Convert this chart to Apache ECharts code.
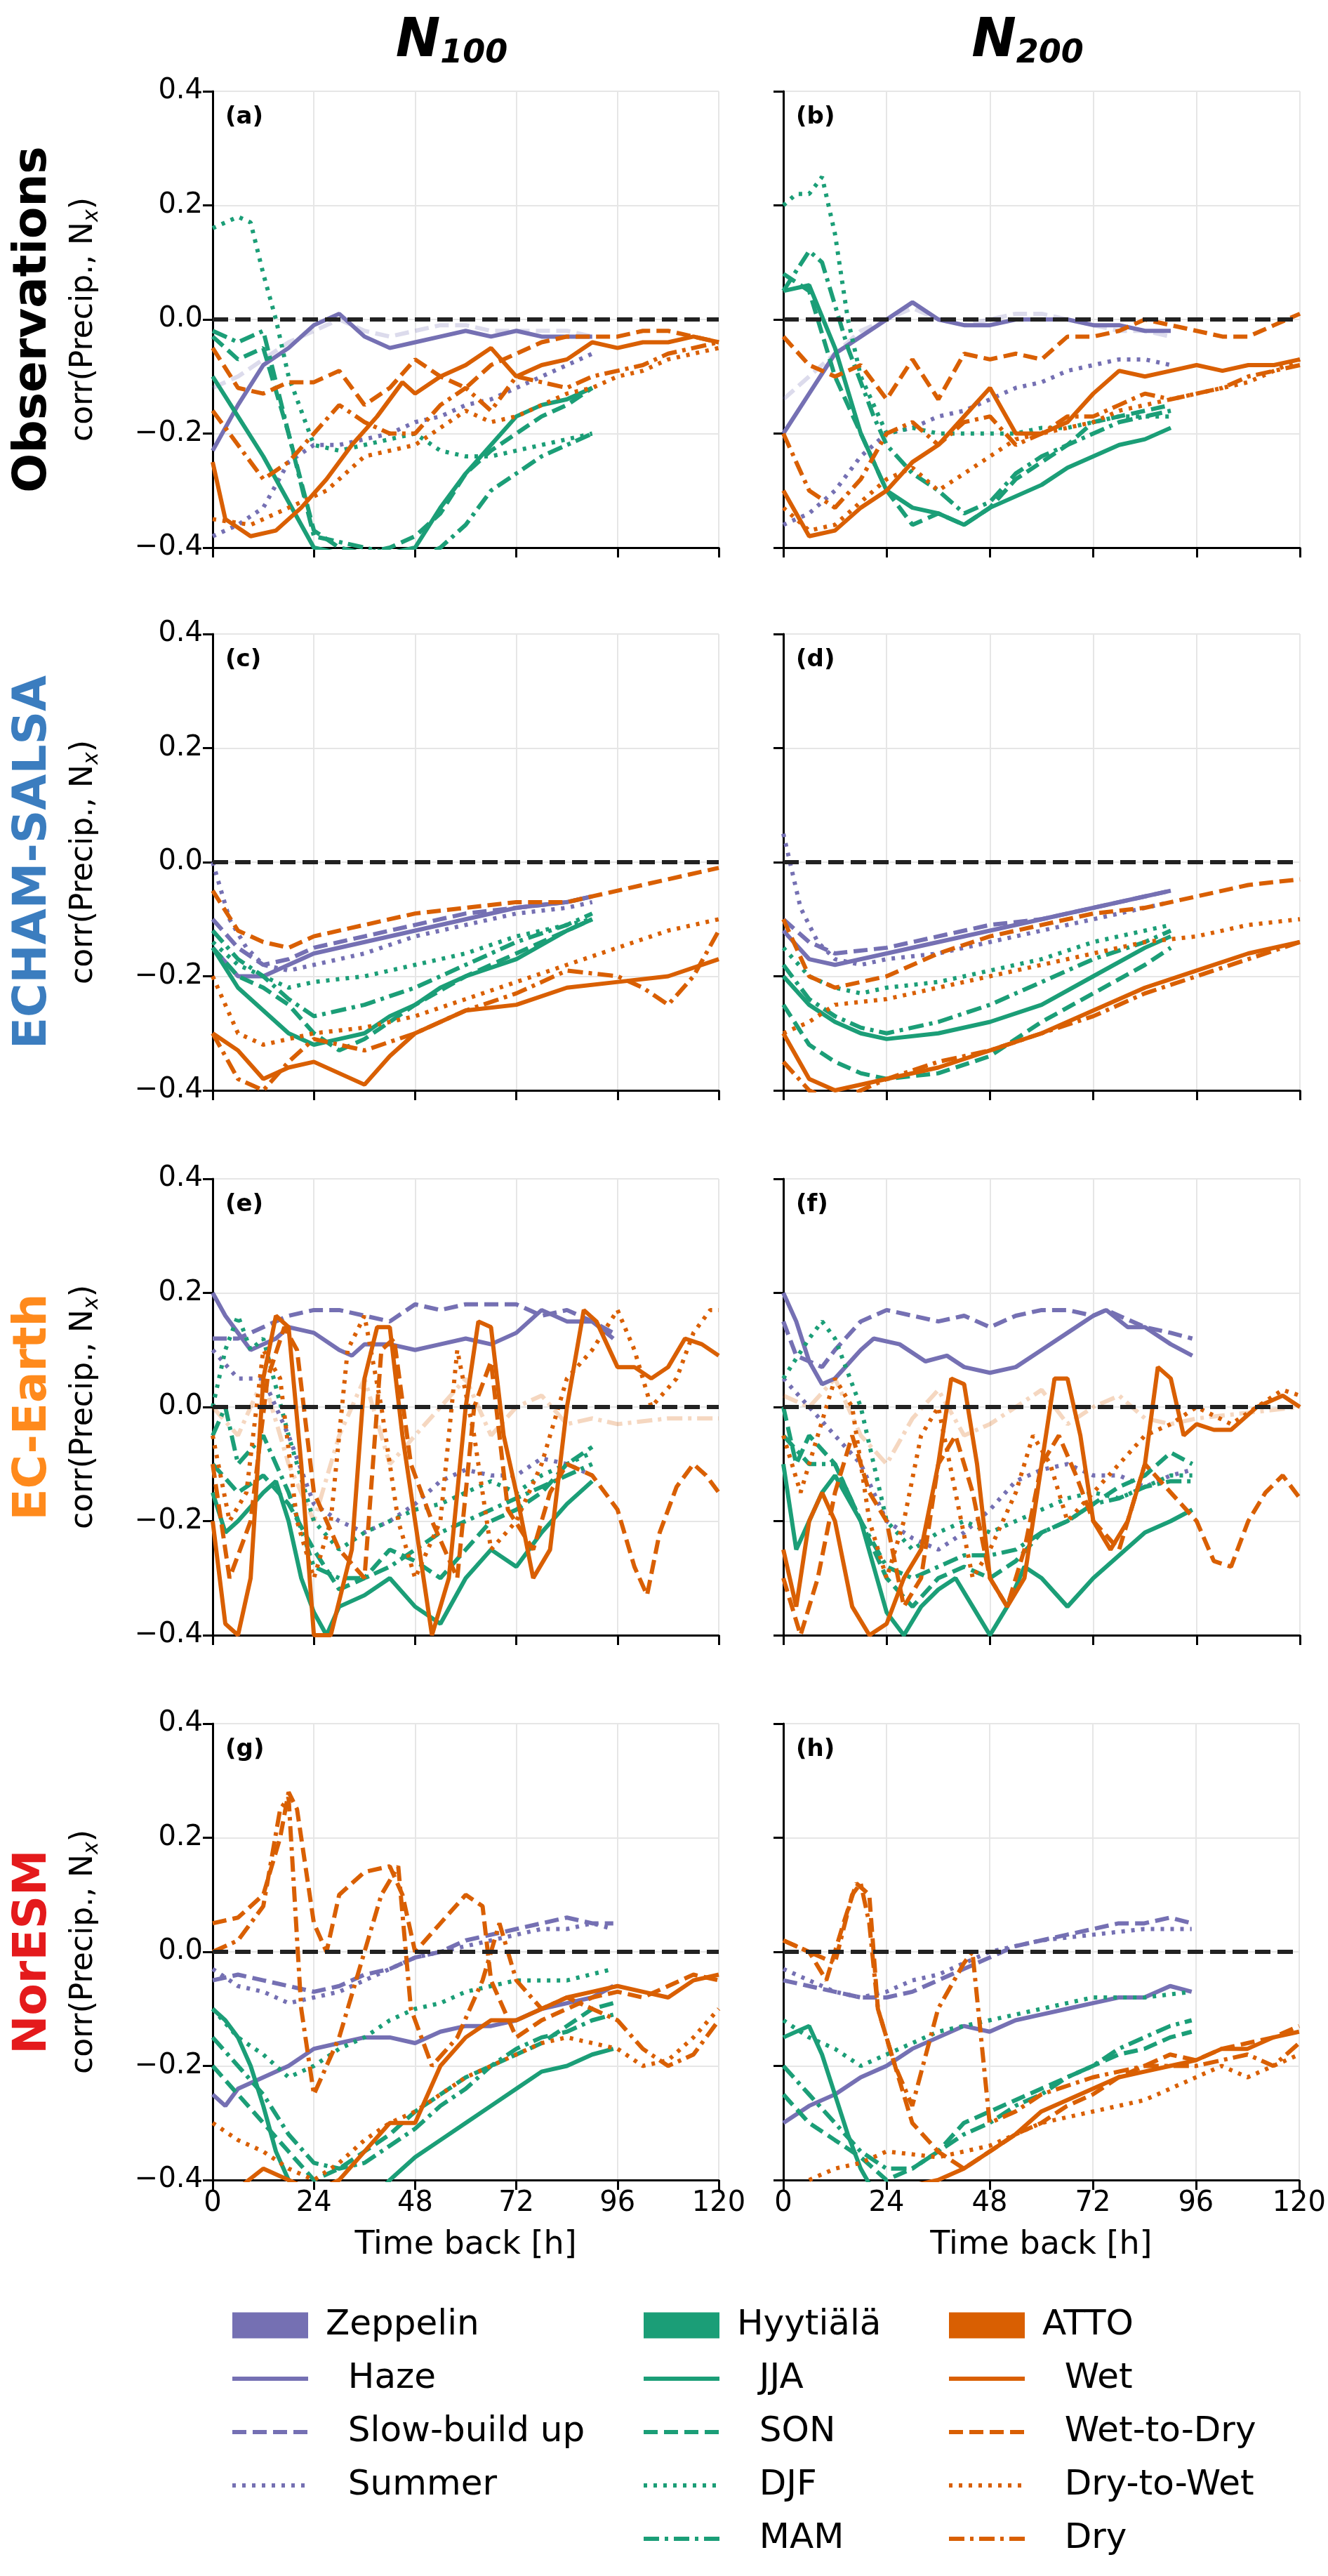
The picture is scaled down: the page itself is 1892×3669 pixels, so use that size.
<!DOCTYPE html>
<html><head><meta charset="utf-8">
<script src="https://cdn.jsdelivr.net/npm/echarts@6/dist/echarts.min.js"></script>
<style>html,body{margin:0;padding:0;background:#fff}#c{width:1892px;height:3669px}</style>
</head><body><div id="c"></div>
<script>
const xTicks=[0,24,48,72,96,120];
const yTicks=[-0.4,-0.2,0,0.2,0.4];
const panelLabels=['(a)','(b)','(c)','(d)','(e)','(f)','(g)','(h)'];
const rowNames=['Observations','ECHAM-SALSA','EC-Earth','NorESM'];
const rowColors=['#000000','#3b7dbf','#ff8a1c','#e41a1c'];
const colTitles=['100','200'];
const siteNames=['Zeppelin','Hyytiälä','ATTO'];
const siteColors=['#7570b3','#1b9e77','#d95f02'];
const seriesNames=[['Haze','Slow-build up','Summer'],['JJA','SON','DJF','MAM'],['Wet','Wet-to-Dry','Dry-to-Wet','Dry']];

// Observations N100 (a)
const a={
Haze:[[0,-0.23],[3,-0.19],[6,-0.15],[12,-0.08],[18,-0.05],[24,-0.01],[30,0.01],[36,-0.03],[42,-0.05],[48,-0.04],[54,-0.03],[60,-0.02],[66,-0.03],[72,-0.02],[78,-0.03],[84,-0.03],[90,-0.03]],
Slow:[[0,-0.12],[6,-0.1],[12,-0.07],[18,-0.04],[24,-0.02],[30,0.0],[36,-0.02],[42,-0.03],[48,-0.02],[54,-0.01],[60,-0.01],[66,-0.02],[72,-0.02],[84,-0.02],[90,-0.03]],
Summer:[[0,-0.38],[6,-0.36],[12,-0.33],[18,-0.25],[24,-0.22],[30,-0.22],[36,-0.21],[42,-0.2],[48,-0.18],[54,-0.17],[60,-0.15],[66,-0.14],[72,-0.12],[78,-0.1],[84,-0.08],[90,-0.06]],
JJA:[[0,-0.1],[6,-0.17],[12,-0.24],[18,-0.32],[24,-0.4],[30,-0.41],[36,-0.41],[42,-0.41],[48,-0.4],[54,-0.33],[60,-0.27],[66,-0.22],[72,-0.17],[78,-0.15],[84,-0.14],[90,-0.12]],
SON:[[0,-0.03],[6,-0.07],[12,-0.05],[18,-0.2],[24,-0.37],[30,-0.4],[36,-0.41],[42,-0.4],[48,-0.38],[54,-0.34],[60,-0.27],[66,-0.23],[72,-0.2],[78,-0.17],[84,-0.15],[90,-0.12]],
DJF:[[0,0.16],[3,0.17],[6,0.18],[9,0.17],[12,0.08],[15,0.0],[18,-0.1],[24,-0.22],[30,-0.23],[36,-0.22],[42,-0.21],[48,-0.2],[54,-0.23],[60,-0.24],[66,-0.24],[72,-0.23],[78,-0.22],[84,-0.21],[90,-0.2]],
MAM:[[0,-0.02],[6,-0.04],[12,-0.02],[18,-0.2],[24,-0.38],[30,-0.39],[36,-0.4],[42,-0.41],[48,-0.42],[54,-0.4],[60,-0.36],[66,-0.3],[72,-0.27],[78,-0.24],[84,-0.22],[90,-0.2]],
Wet:[[0,-0.25],[3,-0.35],[9,-0.38],[15,-0.37],[21,-0.33],[27,-0.28],[33,-0.22],[39,-0.17],[45,-0.11],[48,-0.13],[54,-0.1],[60,-0.08],[66,-0.05],[72,-0.1],[78,-0.08],[84,-0.07],[90,-0.04],[96,-0.05],[102,-0.04],[108,-0.04],[114,-0.03],[120,-0.04]],
W2D:[[0,-0.05],[6,-0.12],[12,-0.13],[18,-0.11],[24,-0.11],[30,-0.09],[36,-0.15],[42,-0.12],[48,-0.07],[54,-0.1],[60,-0.12],[66,-0.08],[72,-0.06],[78,-0.04],[84,-0.03],[90,-0.03],[96,-0.03],[102,-0.02],[108,-0.02],[114,-0.03],[120,-0.04]],
D2W:[[0,-0.35],[9,-0.36],[18,-0.33],[27,-0.3],[36,-0.24],[42,-0.23],[48,-0.22],[54,-0.19],[60,-0.16],[66,-0.18],[72,-0.17],[78,-0.15],[84,-0.13],[90,-0.12],[96,-0.1],[102,-0.09],[108,-0.07],[114,-0.06],[120,-0.05]],
Dry:[[0,-0.16],[6,-0.22],[9,-0.25],[12,-0.28],[18,-0.25],[24,-0.2],[30,-0.15],[36,-0.18],[42,-0.2],[48,-0.2],[54,-0.15],[60,-0.12],[66,-0.16],[72,-0.1],[78,-0.11],[84,-0.12],[90,-0.1],[96,-0.09],[102,-0.08],[108,-0.06],[114,-0.05],[120,-0.04]]
};
// Observations N200 (b)
const b={
Haze:[[0,-0.2],[6,-0.13],[12,-0.06],[18,-0.03],[24,0.0],[30,0.03],[36,0.0],[42,-0.01],[48,-0.01],[54,0.0],[60,0.0],[66,0.0],[72,-0.01],[78,-0.01],[84,-0.02],[90,-0.02]],
Slow:[[0,-0.14],[6,-0.1],[12,-0.06],[18,-0.02],[24,0.0],[30,0.02],[36,0.0],[42,-0.01],[48,0.0],[54,0.01],[60,0.01],[66,0.0],[72,-0.01],[78,-0.02],[84,-0.02],[90,-0.03]],
Summer:[[0,-0.36],[6,-0.34],[12,-0.3],[18,-0.24],[24,-0.2],[30,-0.19],[36,-0.17],[42,-0.16],[48,-0.14],[54,-0.12],[60,-0.11],[66,-0.09],[72,-0.08],[78,-0.07],[84,-0.07],[90,-0.08]],
JJA:[[0,0.05],[6,0.06],[12,-0.05],[18,-0.2],[24,-0.3],[30,-0.33],[36,-0.34],[42,-0.36],[48,-0.33],[54,-0.31],[60,-0.29],[66,-0.26],[72,-0.24],[78,-0.22],[84,-0.21],[90,-0.19]],
SON:[[0,0.08],[6,0.05],[12,-0.1],[18,-0.2],[24,-0.3],[30,-0.36],[36,-0.34],[42,-0.36],[48,-0.33],[54,-0.28],[60,-0.25],[66,-0.22],[72,-0.18],[78,-0.17],[84,-0.16],[90,-0.15]],
DJF:[[0,0.2],[3,0.22],[6,0.22],[9,0.25],[12,0.15],[15,0.0],[18,-0.1],[21,-0.15],[24,-0.2],[30,-0.19],[36,-0.2],[42,-0.2],[48,-0.2],[54,-0.2],[60,-0.19],[66,-0.19],[72,-0.18],[78,-0.17],[84,-0.17],[90,-0.17]],
MAM:[[0,0.05],[6,0.12],[9,0.1],[15,-0.05],[21,-0.17],[24,-0.22],[30,-0.27],[36,-0.3],[42,-0.34],[48,-0.32],[54,-0.27],[60,-0.24],[66,-0.22],[72,-0.2],[78,-0.18],[84,-0.17],[90,-0.16]],
Wet:[[0,-0.3],[6,-0.38],[12,-0.37],[18,-0.33],[24,-0.3],[30,-0.25],[36,-0.22],[42,-0.17],[48,-0.12],[54,-0.2],[60,-0.2],[66,-0.18],[72,-0.13],[78,-0.09],[84,-0.1],[90,-0.09],[96,-0.08],[102,-0.09],[108,-0.08],[114,-0.08],[120,-0.07]],
W2D:[[0,-0.03],[6,-0.08],[12,-0.1],[18,-0.08],[24,-0.14],[30,-0.07],[36,-0.14],[42,-0.06],[48,-0.07],[54,-0.06],[60,-0.07],[66,-0.03],[72,-0.03],[78,-0.02],[84,0.0],[90,-0.01],[96,-0.02],[102,-0.03],[108,-0.03],[114,-0.01],[120,0.01]],
D2W:[[0,-0.33],[6,-0.37],[12,-0.36],[18,-0.32],[24,-0.28],[30,-0.26],[36,-0.3],[42,-0.27],[48,-0.24],[54,-0.21],[60,-0.2],[66,-0.19],[72,-0.18],[78,-0.16],[84,-0.15],[90,-0.14],[96,-0.13],[102,-0.12],[108,-0.11],[114,-0.09],[120,-0.07]],
Dry:[[0,-0.2],[6,-0.3],[12,-0.33],[18,-0.28],[24,-0.2],[30,-0.18],[36,-0.22],[42,-0.18],[48,-0.17],[54,-0.22],[60,-0.2],[66,-0.17],[72,-0.17],[78,-0.15],[84,-0.13],[90,-0.14],[96,-0.13],[102,-0.12],[108,-0.1],[114,-0.09],[120,-0.08]]
};
// ECHAM-SALSA N100 (c)
const c={
Haze:[[0,-0.15],[6,-0.2],[12,-0.2],[18,-0.18],[24,-0.16],[36,-0.14],[48,-0.12],[60,-0.1],[72,-0.08],[84,-0.07],[90,-0.06]],
Slow:[[0,-0.1],[6,-0.15],[12,-0.18],[18,-0.17],[24,-0.15],[36,-0.13],[48,-0.11],[60,-0.09],[72,-0.08],[84,-0.07],[90,-0.06]],
Summer:[[0,0.0],[4,-0.1],[8,-0.15],[12,-0.18],[18,-0.19],[24,-0.18],[36,-0.16],[48,-0.13],[60,-0.11],[72,-0.09],[84,-0.08],[90,-0.07]],
JJA:[[0,-0.15],[6,-0.22],[12,-0.26],[18,-0.3],[24,-0.32],[30,-0.31],[36,-0.3],[42,-0.27],[48,-0.25],[54,-0.22],[60,-0.2],[72,-0.17],[84,-0.12],[90,-0.1]],
SON:[[0,-0.15],[6,-0.2],[12,-0.22],[18,-0.25],[24,-0.3],[30,-0.33],[36,-0.31],[42,-0.28],[48,-0.25],[60,-0.2],[72,-0.16],[84,-0.12],[90,-0.1]],
DJF:[[0,-0.14],[6,-0.18],[12,-0.2],[18,-0.22],[24,-0.21],[36,-0.2],[48,-0.18],[60,-0.16],[72,-0.13],[84,-0.11],[90,-0.1]],
MAM:[[0,-0.12],[6,-0.17],[12,-0.2],[18,-0.24],[24,-0.27],[36,-0.25],[48,-0.22],[60,-0.18],[72,-0.14],[84,-0.11],[90,-0.09]],
Wet:[[0,-0.3],[6,-0.33],[12,-0.38],[18,-0.36],[24,-0.35],[30,-0.37],[36,-0.39],[42,-0.34],[48,-0.3],[54,-0.28],[60,-0.26],[72,-0.25],[84,-0.22],[96,-0.21],[108,-0.2],[120,-0.17]],
W2D:[[0,-0.05],[6,-0.12],[12,-0.14],[18,-0.15],[24,-0.13],[36,-0.11],[48,-0.09],[60,-0.08],[72,-0.07],[84,-0.07],[96,-0.05],[108,-0.03],[120,-0.01]],
D2W:[[0,-0.2],[6,-0.3],[12,-0.32],[24,-0.3],[36,-0.29],[48,-0.27],[60,-0.24],[72,-0.21],[84,-0.18],[96,-0.15],[108,-0.12],[120,-0.1]],
Dry:[[0,-0.3],[6,-0.38],[12,-0.4],[18,-0.35],[24,-0.31],[36,-0.33],[48,-0.3],[60,-0.26],[72,-0.23],[84,-0.19],[96,-0.2],[102,-0.22],[108,-0.25],[114,-0.2],[120,-0.12]]
};
// ECHAM-SALSA N200 (d)
const d={
Haze:[[0,-0.12],[6,-0.17],[12,-0.18],[24,-0.16],[36,-0.14],[48,-0.12],[60,-0.1],[72,-0.08],[84,-0.06],[90,-0.05]],
Slow:[[0,-0.1],[6,-0.14],[12,-0.16],[24,-0.15],[36,-0.13],[48,-0.11],[60,-0.1],[72,-0.08],[84,-0.06],[90,-0.05]],
Summer:[[0,0.05],[4,-0.08],[8,-0.14],[12,-0.17],[18,-0.18],[24,-0.17],[36,-0.16],[48,-0.14],[60,-0.12],[72,-0.1],[84,-0.08],[90,-0.07]],
JJA:[[0,-0.2],[6,-0.25],[12,-0.28],[18,-0.3],[24,-0.31],[36,-0.3],[48,-0.28],[60,-0.25],[72,-0.2],[84,-0.15],[90,-0.13]],
SON:[[0,-0.25],[6,-0.32],[12,-0.35],[18,-0.37],[24,-0.38],[36,-0.37],[48,-0.34],[60,-0.28],[72,-0.23],[84,-0.18],[90,-0.15]],
DJF:[[0,-0.15],[6,-0.2],[12,-0.22],[18,-0.23],[24,-0.22],[36,-0.21],[48,-0.19],[60,-0.17],[72,-0.14],[84,-0.12],[90,-0.11]],
MAM:[[0,-0.18],[6,-0.24],[12,-0.27],[18,-0.29],[24,-0.3],[36,-0.28],[48,-0.25],[60,-0.21],[72,-0.17],[84,-0.14],[90,-0.12]],
Wet:[[0,-0.3],[6,-0.38],[12,-0.4],[24,-0.38],[36,-0.36],[48,-0.33],[60,-0.3],[72,-0.26],[84,-0.22],[96,-0.19],[108,-0.16],[120,-0.14]],
W2D:[[0,-0.1],[6,-0.2],[12,-0.22],[24,-0.2],[36,-0.16],[48,-0.13],[60,-0.11],[72,-0.09],[84,-0.08],[96,-0.06],[108,-0.04],[120,-0.03]],
D2W:[[0,-0.3],[6,-0.28],[12,-0.25],[24,-0.24],[36,-0.22],[48,-0.2],[60,-0.18],[72,-0.16],[84,-0.14],[96,-0.13],[108,-0.11],[120,-0.1]],
Dry:[[0,-0.35],[6,-0.4],[12,-0.42],[24,-0.38],[36,-0.35],[48,-0.33],[60,-0.3],[72,-0.27],[84,-0.23],[96,-0.2],[108,-0.17],[120,-0.14]]
};
// EC-Earth N100 (e)
const e={
Haze:[[0,0.2],[3,0.16],[6,0.13],[9,0.1],[12,0.11],[15,0.12],[18,0.14],[24,0.13],[30,0.1],[33,0.09],[36,0.11],[42,0.11],[48,0.1],[54,0.11],[60,0.12],[66,0.11],[72,0.13],[78,0.17],[84,0.15],[90,0.15],[95,0.12]],
Slow:[[0,0.12],[6,0.12],[12,0.14],[18,0.16],[24,0.17],[30,0.17],[36,0.16],[42,0.15],[48,0.18],[54,0.17],[60,0.18],[66,0.18],[72,0.18],[78,0.16],[84,0.17],[90,0.15],[95,0.13]],
Summer:[[0,0.1],[6,0.05],[12,0.05],[18,-0.05],[24,-0.17],[30,-0.2],[36,-0.22],[42,-0.2],[48,-0.17],[54,-0.13],[60,-0.11],[66,-0.12],[72,-0.12],[78,-0.09],[84,-0.1],[90,-0.12]],
JJA:[[0,-0.15],[3,-0.22],[6,-0.2],[12,-0.15],[15,-0.13],[18,-0.2],[21,-0.3],[24,-0.36],[27,-0.4],[30,-0.35],[36,-0.33],[42,-0.3],[48,-0.35],[54,-0.38],[60,-0.3],[66,-0.25],[72,-0.28],[78,-0.22],[84,-0.17],[90,-0.13]],
SON:[[0,-0.1],[6,-0.15],[12,-0.12],[18,-0.17],[24,-0.25],[30,-0.32],[36,-0.3],[42,-0.25],[48,-0.27],[54,-0.3],[60,-0.25],[66,-0.2],[72,-0.18],[78,-0.15],[84,-0.1],[90,-0.07]],
DJF:[[0,0.0],[3,0.1],[6,0.16],[9,0.1],[12,0.12],[18,-0.05],[24,-0.2],[30,-0.25],[36,-0.22],[42,-0.2],[48,-0.18],[54,-0.17],[60,-0.15],[66,-0.13],[72,-0.15],[78,-0.12],[84,-0.1],[90,-0.08]],
MAM:[[0,-0.05],[3,0.0],[6,-0.1],[12,-0.05],[18,-0.15],[24,-0.28],[30,-0.3],[36,-0.3],[42,-0.28],[48,-0.25],[54,-0.22],[60,-0.2],[66,-0.18],[72,-0.16],[78,-0.14],[84,-0.12],[90,-0.1]],
Wet:[[0,-0.2],[3,-0.38],[6,-0.4],[9,-0.3],[12,0.05],[15,0.16],[18,0.14],[21,-0.1],[24,-0.4],[28,-0.4],[33,-0.25],[36,0.05],[39,0.14],[42,0.14],[45,-0.05],[48,-0.2],[52,-0.4],[56,-0.3],[60,0.0],[63,0.15],[66,0.14],[69,-0.05],[72,-0.15],[76,-0.3],[80,-0.25],[84,0.0],[88,0.17],[91,0.15],[96,0.07],[100,0.07],[104,0.05],[108,0.07],[112,0.12],[116,0.11],[120,0.09]],
W2D:[[0,-0.1],[4,-0.3],[9,-0.2],[13,0.05],[17,0.14],[20,0.1],[24,-0.15],[30,-0.25],[36,-0.3],[40,0.1],[43,0.12],[47,-0.1],[52,-0.2],[58,-0.3],[62,0.0],[66,0.08],[70,-0.18],[76,-0.25],[80,-0.15],[84,-0.1],[90,-0.12],[96,-0.18],[100,-0.28],[103,-0.33],[106,-0.22],[110,-0.14],[114,-0.1],[117,-0.12],[120,-0.15]],
D2W:[[0,-0.05],[4,-0.2],[8,-0.15],[12,0.1],[16,0.05],[20,-0.2],[24,-0.3],[28,-0.2],[32,0.1],[36,0.16],[40,0.0],[44,-0.2],[48,-0.3],[54,-0.2],[58,0.1],[62,-0.05],[66,-0.25],[72,-0.2],[78,-0.1],[84,0.05],[90,0.1],[96,0.17],[100,0.1],[104,0.0],[110,0.05],[114,0.13],[118,0.17],[120,0.17]],
Dry:[[0,0.0],[6,-0.05],[12,0.05],[18,-0.1],[24,-0.2],[30,-0.05],[36,0.05],[42,-0.1],[48,-0.05],[54,0.0],[60,0.05],[66,-0.05],[72,0.0],[78,0.02],[84,-0.03],[90,-0.02],[96,-0.03],[108,-0.02],[120,-0.02]]
};
// EC-Earth N200 (f)
const f={
Haze:[[0,0.2],[3,0.15],[6,0.08],[9,0.04],[12,0.05],[18,0.1],[21,0.12],[27,0.11],[33,0.08],[38,0.09],[42,0.07],[48,0.06],[54,0.07],[60,0.1],[66,0.13],[72,0.16],[75,0.17],[80,0.14],[84,0.14],[90,0.11],[95,0.09]],
Slow:[[0,0.15],[3,0.09],[6,0.08],[9,0.07],[12,0.1],[18,0.15],[24,0.17],[30,0.16],[36,0.15],[42,0.16],[48,0.14],[54,0.16],[60,0.17],[66,0.17],[72,0.16],[75,0.17],[84,0.14],[90,0.13],[95,0.12]],
Summer:[[0,0.05],[6,0.0],[12,-0.05],[18,-0.1],[24,-0.2],[30,-0.23],[36,-0.25],[42,-0.22],[48,-0.18],[54,-0.13],[60,-0.11],[66,-0.1],[72,-0.12],[78,-0.12],[84,-0.14],[90,-0.12],[95,-0.11]],
JJA:[[0,-0.1],[3,-0.25],[6,-0.2],[9,-0.15],[12,-0.12],[18,-0.2],[21,-0.28],[24,-0.36],[28,-0.4],[32,-0.35],[36,-0.32],[40,-0.3],[44,-0.35],[48,-0.4],[52,-0.35],[56,-0.28],[60,-0.3],[66,-0.35],[72,-0.3],[78,-0.26],[84,-0.22],[90,-0.2],[95,-0.18]],
SON:[[0,0.0],[3,-0.1],[6,-0.05],[12,-0.1],[18,-0.2],[24,-0.3],[30,-0.35],[36,-0.3],[42,-0.28],[48,-0.3],[54,-0.27],[60,-0.22],[66,-0.2],[72,-0.17],[78,-0.14],[84,-0.12],[90,-0.08],[95,-0.1]],
DJF:[[0,0.05],[6,0.12],[9,0.15],[12,0.12],[18,0.0],[24,-0.2],[30,-0.25],[36,-0.22],[42,-0.2],[48,-0.22],[54,-0.2],[60,-0.18],[66,-0.16],[72,-0.15],[78,-0.16],[84,-0.14],[90,-0.12],[95,-0.12]],
MAM:[[0,-0.05],[6,-0.1],[12,-0.1],[18,-0.2],[24,-0.28],[30,-0.3],[36,-0.28],[42,-0.26],[48,-0.26],[54,-0.25],[60,-0.22],[66,-0.2],[72,-0.17],[78,-0.16],[84,-0.14],[90,-0.13],[95,-0.13]],
Wet:[[0,-0.25],[3,-0.35],[6,-0.2],[9,-0.15],[12,-0.2],[16,-0.35],[20,-0.4],[24,-0.38],[28,-0.3],[32,-0.25],[36,-0.1],[39,0.05],[42,0.04],[45,-0.1],[48,-0.3],[52,-0.35],[56,-0.3],[60,-0.1],[63,0.05],[66,0.05],[69,-0.05],[72,-0.2],[76,-0.25],[80,-0.2],[84,-0.1],[87,0.07],[90,0.05],[93,-0.05],[96,-0.03],[100,-0.04],[104,-0.04],[110,0.0],[116,0.02],[120,0.0]],
W2D:[[0,-0.3],[4,-0.4],[8,-0.3],[12,-0.15],[16,-0.05],[20,-0.15],[24,-0.2],[28,-0.35],[32,-0.3],[36,-0.1],[40,-0.05],[44,-0.15],[48,-0.3],[52,-0.35],[56,-0.25],[60,-0.1],[64,-0.05],[68,-0.12],[72,-0.2],[78,-0.25],[84,-0.1],[90,-0.15],[96,-0.2],[100,-0.27],[104,-0.28],[108,-0.2],[112,-0.15],[116,-0.12],[120,-0.16]],
D2W:[[0,-0.05],[4,-0.15],[8,-0.05],[12,0.05],[16,0.0],[20,-0.2],[24,-0.3],[28,-0.2],[32,-0.05],[36,0.0],[40,-0.15],[44,-0.3],[48,-0.25],[54,-0.15],[58,-0.05],[62,-0.1],[66,-0.2],[72,-0.15],[78,-0.1],[84,-0.05],[90,-0.03],[96,0.0],[104,-0.03],[110,0.0],[116,0.03],[120,0.02]],
Dry:[[0,0.02],[6,0.0],[12,0.05],[18,-0.05],[24,-0.1],[30,-0.02],[36,0.03],[42,-0.05],[48,-0.03],[54,0.0],[60,0.03],[66,-0.03],[72,0.0],[78,0.02],[84,-0.02],[90,-0.03],[96,-0.02],[108,-0.01],[120,0.0]]
};
// NorESM N100 (g)
const g={
Haze:[[0,-0.25],[3,-0.27],[6,-0.24],[12,-0.22],[18,-0.2],[24,-0.17],[30,-0.16],[36,-0.15],[42,-0.15],[48,-0.16],[54,-0.14],[60,-0.13],[66,-0.13],[72,-0.12],[78,-0.1],[84,-0.09],[90,-0.08],[95,-0.06]],
Slow:[[0,-0.05],[6,-0.04],[12,-0.05],[18,-0.06],[24,-0.07],[30,-0.06],[36,-0.04],[42,-0.03],[48,-0.01],[54,0.0],[60,0.02],[66,0.03],[72,0.04],[78,0.05],[84,0.06],[90,0.05],[95,0.05]],
Summer:[[0,-0.03],[6,-0.06],[12,-0.07],[18,-0.09],[24,-0.08],[30,-0.07],[36,-0.05],[42,-0.03],[48,-0.01],[54,0.0],[60,0.01],[66,0.02],[72,0.03],[78,0.04],[84,0.04],[90,0.05],[95,0.04]],
JJA:[[0,-0.1],[3,-0.12],[6,-0.15],[9,-0.2],[12,-0.27],[15,-0.35],[18,-0.4],[24,-0.45],[36,-0.45],[42,-0.4],[48,-0.36],[54,-0.33],[60,-0.3],[66,-0.27],[72,-0.24],[78,-0.21],[84,-0.2],[90,-0.18],[95,-0.17]],
SON:[[0,-0.2],[6,-0.25],[12,-0.3],[18,-0.35],[24,-0.4],[30,-0.38],[36,-0.35],[42,-0.32],[48,-0.28],[54,-0.25],[60,-0.22],[66,-0.2],[72,-0.18],[78,-0.16],[84,-0.13],[90,-0.1],[95,-0.09]],
DJF:[[0,-0.1],[6,-0.15],[12,-0.18],[18,-0.22],[24,-0.2],[30,-0.17],[36,-0.15],[42,-0.12],[48,-0.1],[54,-0.09],[60,-0.07],[66,-0.06],[72,-0.05],[84,-0.05],[95,-0.03]],
MAM:[[0,-0.15],[6,-0.2],[12,-0.25],[18,-0.32],[24,-0.37],[30,-0.38],[36,-0.37],[42,-0.34],[48,-0.31],[54,-0.27],[60,-0.24],[66,-0.2],[72,-0.17],[78,-0.15],[84,-0.14],[90,-0.12],[95,-0.11]],
Wet:[[0,-0.45],[12,-0.38],[18,-0.4],[24,-0.42],[30,-0.4],[36,-0.35],[42,-0.3],[48,-0.3],[54,-0.2],[60,-0.15],[66,-0.12],[72,-0.12],[78,-0.1],[84,-0.08],[90,-0.07],[96,-0.06],[102,-0.07],[108,-0.08],[114,-0.05],[120,-0.04]],
W2D:[[0,0.05],[6,0.06],[12,0.1],[16,0.2],[18,0.28],[20,0.25],[24,0.05],[27,0.0],[30,0.1],[36,0.14],[42,0.15],[45,0.1],[48,0.0],[54,0.05],[60,0.1],[64,0.08],[66,-0.05],[72,-0.15],[78,-0.12],[84,-0.1],[90,-0.08],[96,-0.07],[102,-0.08],[108,-0.06],[114,-0.04],[120,-0.05]],
D2W:[[0,-0.3],[6,-0.33],[12,-0.35],[18,-0.38],[24,-0.4],[30,-0.37],[36,-0.33],[42,-0.3],[48,-0.28],[54,-0.25],[60,-0.22],[66,-0.2],[72,-0.18],[78,-0.16],[84,-0.15],[90,-0.16],[96,-0.17],[102,-0.2],[108,-0.19],[114,-0.15],[120,-0.1]],
Dry:[[0,0.0],[6,0.02],[12,0.08],[16,0.25],[18,0.27],[21,-0.1],[24,-0.25],[30,-0.15],[36,0.0],[40,0.1],[44,0.15],[47,-0.1],[52,-0.2],[58,-0.15],[64,-0.05],[68,0.05],[72,-0.05],[78,-0.1],[84,-0.08],[90,-0.1],[96,-0.12],[102,-0.17],[108,-0.2],[114,-0.18],[120,-0.12]]
};
// NorESM N200 (h)
const h={
Haze:[[0,-0.3],[6,-0.27],[12,-0.25],[18,-0.22],[24,-0.2],[30,-0.17],[36,-0.15],[42,-0.13],[48,-0.14],[54,-0.12],[60,-0.11],[66,-0.1],[72,-0.09],[78,-0.08],[84,-0.08],[90,-0.06],[95,-0.07]],
Slow:[[0,-0.05],[6,-0.06],[12,-0.07],[18,-0.08],[24,-0.08],[30,-0.07],[36,-0.05],[42,-0.03],[48,-0.01],[54,0.01],[60,0.02],[66,0.03],[72,0.04],[78,0.05],[84,0.05],[90,0.06],[95,0.05]],
Summer:[[0,-0.03],[6,-0.05],[12,-0.07],[18,-0.08],[24,-0.07],[30,-0.05],[36,-0.04],[42,-0.02],[48,0.0],[60,0.02],[72,0.03],[84,0.04],[95,0.04]],
JJA:[[0,-0.15],[6,-0.13],[9,-0.18],[12,-0.25],[15,-0.32],[18,-0.38],[21,-0.42]],
SON:[[0,-0.25],[6,-0.3],[12,-0.33],[18,-0.36],[24,-0.4],[30,-0.38],[36,-0.35],[42,-0.3],[48,-0.28],[54,-0.26],[60,-0.24],[66,-0.22],[72,-0.2],[78,-0.18],[84,-0.17],[90,-0.15],[95,-0.14]],
DJF:[[0,-0.12],[6,-0.15],[12,-0.17],[18,-0.2],[24,-0.18],[30,-0.16],[36,-0.14],[42,-0.13],[48,-0.12],[54,-0.11],[60,-0.1],[66,-0.09],[72,-0.08],[84,-0.08],[95,-0.07]],
MAM:[[0,-0.2],[6,-0.25],[12,-0.3],[18,-0.35],[24,-0.38],[30,-0.38],[36,-0.35],[42,-0.32],[48,-0.3],[54,-0.27],[60,-0.25],[66,-0.22],[72,-0.2],[78,-0.17],[84,-0.15],[90,-0.13],[95,-0.12]],
Wet:[[24,-0.42],[36,-0.4],[42,-0.38],[48,-0.35],[54,-0.32],[60,-0.28],[66,-0.26],[72,-0.24],[78,-0.22],[84,-0.21],[90,-0.2],[96,-0.19],[102,-0.17],[108,-0.17],[114,-0.15],[120,-0.14]],
W2D:[[0,0.02],[6,0.0],[10,-0.05],[14,0.05],[17,0.12],[20,0.1],[22,-0.1],[26,-0.2],[30,-0.3],[36,-0.35],[42,-0.38],[48,-0.35],[54,-0.32],[60,-0.3],[66,-0.27],[72,-0.25],[78,-0.22],[84,-0.2],[90,-0.18],[96,-0.19],[102,-0.17],[108,-0.16],[114,-0.15],[120,-0.13]],
D2W:[[6,-0.4],[12,-0.38],[18,-0.37],[24,-0.35],[36,-0.36],[48,-0.34],[60,-0.3],[72,-0.28],[84,-0.26],[96,-0.22],[102,-0.2],[108,-0.22],[114,-0.2],[120,-0.18]],
Dry:[[0,0.02],[6,0.0],[12,-0.02],[16,0.1],[18,0.12],[20,0.05],[22,-0.1],[26,-0.2],[30,-0.27],[36,-0.1],[42,-0.02],[44,0.0],[48,-0.3],[54,-0.28],[60,-0.25],[72,-0.22],[84,-0.2],[96,-0.2],[108,-0.18],[114,-0.2],[120,-0.16]]
};
const panels=[a,b,c,d,e,f,g,h];
const fadedKeys=[['Slow'],['Slow'],[],[],['Dry'],['Dry'],[],[]];

const keys=[['Haze','Slow','Summer'],['JJA','SON','DJF','MAM'],['Wet','W2D','D2W','Dry']];
const dashFor=[['solid',[20,9],[5,9]],['solid',[20,9],[5,9],[22,8,5,8]],['solid',[20,9],[5,9],[22,8,5,8]]];

const chart=echarts.init(document.getElementById('c'),null,{renderer:'canvas'});
const colLeft=[303,1116], colW=[721,736], rowTop=[130,903,1679,2455], rowH=650;
const grids=[],xAxes=[],yAxes=[],series=[],graphics=[];
const fam='"DejaVu Sans", sans-serif';
for(let p=0;p<8;p++){
  const r=Math.floor(p/2), col=p%2;
  grids.push({left:colLeft[col],top:rowTop[r],width:colW[col],height:rowH,containLabel:false});
  xAxes.push({type:'value',gridIndex:p,min:0,max:120,interval:24,
    axisLine:{show:true,onZero:false,lineStyle:{color:'#000',width:3}},
    axisTick:{show:true,length:14,lineStyle:{color:'#000',width:3}},
    axisLabel:{show:r===3,fontSize:40,color:'#000',fontFamily:fam,margin:14},
    splitLine:{show:true,lineStyle:{color:'#e6e6e6',width:2}},
    name:r===3?'Time back [h]':'',nameLocation:'middle',nameGap:70,nameTextStyle:{fontSize:46,color:'#000',fontFamily:fam}});
  yAxes.push({type:'value',gridIndex:p,min:-0.4,max:0.4,interval:0.2,
    axisLine:{show:true,lineStyle:{color:'#000',width:3}},
    axisTick:{show:true,length:14,lineStyle:{color:'#000',width:3}},
    axisLabel:{show:col===0,fontSize:40,color:'#000',fontFamily:fam,margin:14,
      formatter:v=>{const s=(Math.abs(v)<1e-9?0:v).toFixed(1);return s.replace('-','\u2212');}},
    splitLine:{show:true,lineStyle:{color:'#e6e6e6',width:2}}});
  series.push({type:'line',xAxisIndex:p,yAxisIndex:p,data:[[0,0],[120,0]],symbol:'none',silent:true,z:5,
    lineStyle:{color:'#222',width:6,type:[22,10]}});
  const P=panels[p];
  for(let s=0;s<3;s++){
    for(let k=0;k<keys[s].length;k++){
      const key=keys[s][k];
      const faded=fadedKeys[p].includes(key);
      series.push({name:seriesNames[s][k],type:'line',xAxisIndex:p,yAxisIndex:p,data:P[key],symbol:'none',showSymbol:false,
        z:faded?2:3,lineStyle:{color:siteColors[s],width:6,type:dashFor[s][k],opacity:faded?0.25:1},
        itemStyle:{color:siteColors[s]}});
    }
  }
  graphics.push({type:'text',left:colLeft[col]+18,top:rowTop[r]+20,
    style:{text:panelLabels[p],font:'bold 34px '+fam,fill:'#000'}});
}
for(let s=0;s<3;s++) series.push({name:siteNames[s],type:'line',xAxisIndex:0,yAxisIndex:0,data:[],
  itemStyle:{color:siteColors[s]},lineStyle:{color:siteColors[s]}});
for(let r=0;r<4;r++){
  const cy=rowTop[r]+rowH/2;
  graphics.push({type:'text',x:48,y:cy,rotation:Math.PI/2,
    style:{text:rowNames[r],font:'bold 66px '+fam,fill:rowColors[r],align:'center',verticalAlign:'middle'}});
  graphics.push({type:'text',x:120,y:cy,rotation:Math.PI/2,
    style:{rich:{n:{font:'44px '+fam,fill:'#000'},s:{font:'italic 30px '+fam,fill:'#000',padding:[22,0,0,0]}},
      text:'{n|corr(Precip., N}{s|x}{n|)}',align:'center',verticalAlign:'middle'}});
}
const titleX=[colLeft[0]+colW[0]/2,colLeft[1]+colW[1]/2];
for(let cI=0;cI<2;cI++){
  graphics.push({type:'text',x:titleX[cI]-20,y:60,
    style:{rich:{n:{font:'italic bold 76px '+fam,fill:'#000'},s:{font:'italic bold 46px '+fam,fill:'#000',padding:[34,0,0,0]}},
      text:'{n|N}{s|'+colTitles[cI]+'}',align:'center',verticalAlign:'middle'}});
}
const legBase={orient:'vertical',itemWidth:108,itemHeight:37,itemGap:26,
  itemStyle:{opacity:0},lineStyle:{width:6,opacity:1},
  textStyle:{fontSize:50,color:'#000',fontFamily:fam,padding:[0,0,0,20]},selectedMode:false,top:3282};
const legends=[];
const legX=[323,909,1344];
for(let s=0;s<3;s++){
  const dat=[{name:siteNames[s],icon:'rect',itemStyle:{opacity:1,color:siteColors[s]}}].concat(seriesNames[s].map(n=>({name:n})));
  legends.push(Object.assign({},legBase,{left:legX[s],data:dat,
    formatter:n=>siteNames.includes(n)?n:'  '+n}));
}
chart.setOption({animation:false,backgroundColor:'#fff',grid:grids,xAxis:xAxes,yAxis:yAxes,series:series,graphic:graphics,legend:legends});
</script></body></html>
